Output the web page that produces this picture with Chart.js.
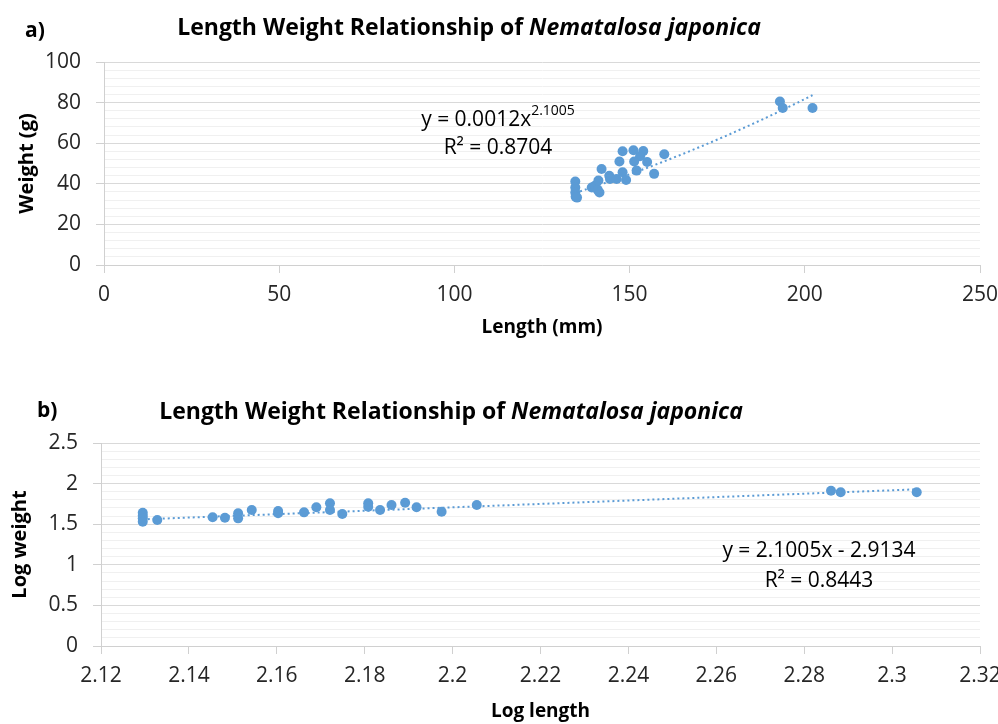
<!DOCTYPE html>
<html>
<head>
<meta charset="utf-8">
<script src="https://cdn.jsdelivr.net/npm/chart.js@4.4.1/dist/chart.umd.min.js"></script>
<style>
  html, body { margin: 0; padding: 0; background: #fff; }
  #wrap { position: relative; width: 998px; height: 724px; }
  .panel { position: absolute; left: 0; width: 998px; height: 362px; }
</style>
</head>
<body>
<div id="wrap">
  <div class="panel" style="top:0"><canvas id="chartA" width="998" height="362"></canvas></div>
  <div class="panel" style="top:362px"><canvas id="chartB" width="998" height="362"></canvas></div>
</div>
<script>
// ---- a) raw measurements ----
const lengthMm = [134.5, 134.5, 134.5, 134.6, 135.0, 139.2, 140.1, 140.9, 141.4, 141.1,
                  142.0, 144.2, 144.4, 146.3, 148.0, 149.0, 147.1, 148.0, 151.1, 153.9,
                  153.0, 151.3, 152.0, 155.0, 157.0, 159.9, 192.9, 193.7, 202.2];
const weightG  = [41.1, 38.2, 35.7, 33.6, 33.2, 38.2, 39.0, 37.0, 35.7, 41.6,
                  47.3, 44.0, 42.4, 42.4, 45.7, 41.9, 51.0, 56.0, 56.5, 56.1,
                  53.6, 51.0, 46.5, 50.7, 44.9, 54.6, 80.5, 77.3, 77.3];

// ---- b) log-transformed measurements ----
const logLength = [2.1295, 2.1295, 2.1295, 2.1295, 2.1328, 2.1454, 2.1482, 2.1512, 2.1512, 2.1543,
                   2.1603, 2.1603, 2.1662, 2.1690, 2.1721, 2.1721, 2.1749, 2.1808, 2.1808, 2.1835,
                   2.1861, 2.1892, 2.1918, 2.1975, 2.2055, 2.2861, 2.2883, 2.3056];
const logWeight = [1.640, 1.605, 1.572, 1.531, 1.552, 1.585, 1.580, 1.572, 1.634, 1.675,
                   1.662, 1.635, 1.646, 1.708, 1.757, 1.675, 1.626, 1.757, 1.716, 1.675,
                   1.736, 1.765, 1.708, 1.654, 1.736, 1.913, 1.893, 1.893];

// ---- fitted trend lines ----
const powerA = 0.0012, powerB = 2.1005, powerR2 = '0.8704';
const linSlope = 2.1005, linIntercept = -2.9134, linR2 = '0.8443';

// ---- axis ticks ----
const lengthTicks    = [0, 50, 100, 150, 200, 250];
const weightTicks    = [0, 20, 40, 60, 80, 100];
const logLengthTicks = [2.12, 2.14, 2.16, 2.18, 2.2, 2.22, 2.24, 2.26, 2.28, 2.3, 2.32];
const logWeightTicks = [0, 0.5, 1, 1.5, 2, 2.5];

const titleLead = 'Length Weight Relationship of ';
const titleSpecies = 'Nematalosa japonica';

const FAMILY = '"Open Sans", "Noto Sans", sans-serif';
const MARKER = '#5b9bd5';
const GRID_MAJOR = '#d9d9d9';
const GRID_MINOR = '#f0f0f0';
const AXIS = '#d0d0d0';
const TICK_TEXT = '#262626';

function withMinor(major, parts) {
  const out = [];
  for (let i = 0; i < major.length - 1; i++) {
    const a = major[i], b = major[i + 1];
    for (let k = 0; k < parts; k++) out.push(+(a + (b - a) * k / parts).toFixed(6));
  }
  out.push(major[major.length - 1]);
  return out;
}
const isMajor = (list, v) => list.some(m => Math.abs(m - v) < 1e-6);
const fmt = v => String(+(+v).toFixed(4));

function pairs(xs, ys) { return xs.map((x, i) => ({ x, y: ys[i] })); }

function curve(xs, f, steps) {
  const lo = Math.min(...xs), hi = Math.max(...xs);
  const pts = [];
  for (let i = 0; i <= steps; i++) {
    const x = lo + (hi - lo) * i / steps;
    pts.push({ x, y: f(x) });
  }
  return pts;
}

// Panel letter and two-style title
const headingPlugin = {
  id: 'heading',
  afterDraw(chart, args, o) {
    const ctx = chart.ctx;
    ctx.save();
    ctx.fillStyle = '#000';
    ctx.textBaseline = 'alphabetic';
    ctx.textAlign = 'left';
    ctx.font = `bold ${o.letterSize}px ${FAMILY}`;
    ctx.fillText(o.letter, o.letterX, o.letterBase);
    const normal = `bold ${o.size}px ${FAMILY}`;
    const ital = `italic bold ${o.size}px ${FAMILY}`;
    ctx.font = normal; const w1 = ctx.measureText(titleLead).width;
    ctx.font = ital;   const w2 = ctx.measureText(titleSpecies).width;
    const x0 = o.cx - (w1 + w2) / 2;
    ctx.font = normal; ctx.fillText(titleLead, x0, o.base);
    ctx.font = ital;   ctx.fillText(titleSpecies, x0 + w1, o.base);
    ctx.restore();
  }
};

// Trend-line equation and R² label
const equationPlugin = {
  id: 'equation',
  afterDraw(chart, args, o) {
    const ctx = chart.ctx;
    ctx.save();
    ctx.fillStyle = '#000';
    ctx.textBaseline = 'alphabetic';
    ctx.textAlign = 'left';
    const main = `${o.size}px ${FAMILY}`;
    const sup = `${o.supSize}px ${FAMILY}`;
    ctx.font = main; const wm = ctx.measureText(o.line1).width;
    let ws = 0;
    if (o.sup) { ctx.font = sup; ws = ctx.measureText(o.sup).width; }
    const x1 = o.cx - (wm + ws) / 2;
    ctx.font = main; ctx.fillText(o.line1, x1, o.base1);
    if (o.sup) { ctx.font = sup; ctx.fillText(o.sup, x1 + wm, o.base1 - o.supRise); }
    ctx.font = main;
    const w2 = ctx.measureText(o.line2).width;
    ctx.fillText(o.line2, o.cx - w2 / 2, o.base2);
    ctx.restore();
  }
};

function buildScales(cfg) {
  const yAll = withMinor(cfg.yTicks, 5);
  return {
    x: {
      type: 'linear', min: cfg.xTicks[0], max: cfg.xTicks[cfg.xTicks.length - 1],
      afterBuildTicks: s => { s.ticks = cfg.xTicks.map(v => ({ value: v })); },
      afterFit: s => { s.height = cfg.xHeight; s.paddingLeft = 0; s.paddingRight = 0; },
      ticks: { autoSkip: false, maxRotation: 0, padding: 9, color: TICK_TEXT,
               font: { family: FAMILY, size: 21 }, callback: v => fmt(v) },
      grid: { drawOnChartArea: false, tickLength: 8, tickColor: AXIS, tickWidth: 1 },
      border: { color: AXIS, width: 1 },
      title: { display: true, text: cfg.xTitle, color: '#000',
               font: { family: FAMILY, size: 19, weight: 'bold' },
               padding: { top: 0, bottom: cfg.xTitlePad } }
    },
    y: {
      type: 'linear', min: cfg.yTicks[0], max: cfg.yTicks[cfg.yTicks.length - 1],
      afterBuildTicks: s => { s.ticks = yAll.map(v => ({ value: v })); },
      afterFit: s => { s.width = cfg.yWidth; s.paddingTop = 0; s.paddingBottom = 0; },
      ticks: { autoSkip: false, padding: 15, color: TICK_TEXT,
               font: { family: FAMILY, size: 21 },
               callback: v => isMajor(cfg.yTicks, v) ? fmt(v) : '' },
      grid: {
        tickLength: 8,
        color: c => (c.tick && isMajor(cfg.yTicks, c.tick.value)) ? GRID_MAJOR : GRID_MINOR,
        tickColor: c => (c.tick && isMajor(cfg.yTicks, c.tick.value)) ? AXIS : 'rgba(0,0,0,0)',
        lineWidth: 1
      },
      border: { color: AXIS, width: 1 },
      title: { display: true, text: cfg.yTitle, color: '#000',
               font: { family: FAMILY, size: 20, weight: 'bold' },
               padding: { top: cfg.yTitlePad, bottom: 0 } }
    }
  };
}

function datasets(points, trend) {
  return [
    { data: trend, showLine: true, pointRadius: 0, borderColor: MARKER, borderWidth: 2,
      borderDash: [2, 3], fill: false, order: 2 },
    { data: points, pointRadius: 5, pointHoverRadius: 5, backgroundColor: MARKER,
      borderWidth: 0, order: 1 }
  ];
}

// a) weight against length with power fit
new Chart(document.getElementById('chartA'), {
  type: 'scatter',
  data: { datasets: datasets(pairs(lengthMm, weightG),
                             curve(lengthMm, x => powerA * Math.pow(x, powerB), 80)) },
  options: {
    responsive: false, animation: false, devicePixelRatio: 1,
    layout: { padding: { top: 62, right: 18, bottom: 0, left: 0 } },
    plugins: {
      legend: { display: false }, tooltip: { enabled: false },
      heading: { letter: 'a)', letterX: 25, letterBase: 37, letterSize: 21,
                 cx: 469, base: 35, size: 23 },
      equation: { line1: `y = ${powerA}x`, sup: String(powerB), line2: `R² = ${powerR2}`,
                  cx: 498, base1: 126, base2: 154, size: 21, supSize: 14, supRise: 11 }
    },
    scales: buildScales({ xTicks: lengthTicks, yTicks: weightTicks, xHeight: 97, yWidth: 104,
                          xTitle: 'Length (mm)', yTitle: 'Weight (g)', xTitlePad: 23, yTitlePad: 15 })
  },
  plugins: [headingPlugin, equationPlugin]
});

// b) log weight against log length with linear fit
new Chart(document.getElementById('chartB'), {
  type: 'scatter',
  data: { datasets: datasets(pairs(logLength, logWeight),
                             curve(logLength, x => linSlope * x + linIntercept, 2)) },
  options: {
    responsive: false, animation: false, devicePixelRatio: 1,
    layout: { padding: { top: 81, right: 18, bottom: 0, left: 0 } },
    plugins: {
      legend: { display: false }, tooltip: { enabled: false },
      heading: { letter: 'b)', letterX: 37, letterBase: 55, letterSize: 21,
                 cx: 451, base: 57, size: 23 },
      equation: { line1: `y = ${linSlope}x - ${Math.abs(linIntercept)}`, sup: '', line2: `R² = ${linR2}`,
                  cx: 819, base1: 195, base2: 225, size: 21, supSize: 14, supRise: 0 }
    },
    scales: buildScales({ xTicks: logLengthTicks, yTicks: logWeightTicks, xHeight: 78, yWidth: 101,
                          xTitle: 'Log length', yTitle: 'Log weight', xTitlePad: 1, yTitlePad: 8 })
  },
  plugins: [headingPlugin, equationPlugin]
});
</script>
</body>
</html>
